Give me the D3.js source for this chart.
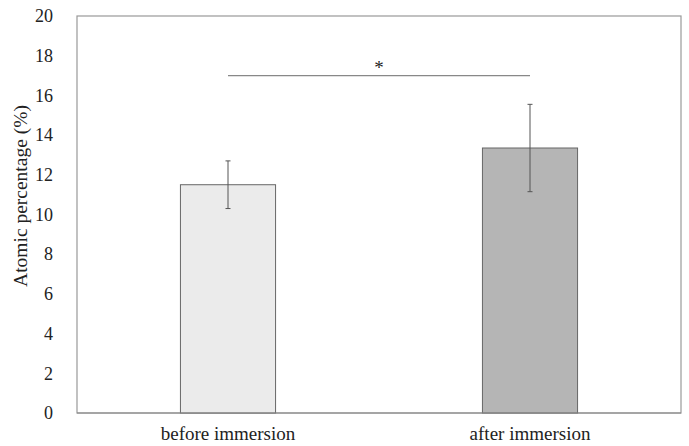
<!DOCTYPE html>
<html lang="en">
<head>
<meta charset="utf-8">
<title>Atomic percentage</title>
<script src="https://cdn.jsdelivr.net/npm/d3@7"></script>
<style>
  body { margin: 0; background: #fff; }
  text { font-family: "Liberation Serif", "Times New Roman", serif; fill: #222; }
</style>
</head>
<body>
<script>
// data
var categories = ["before immersion", "after immersion"];
var means = [11.5, 13.35];
var errors = [1.2, 2.2];
var fills = ["#ebebeb", "#b5b5b5"];
var yTicks = [0, 2, 4, 6, 8, 10, 12, 14, 16, 18, 20];
var sigLevel = 17;
var sigLabel = "*";

var width = 689, height = 446;
var margin = {top: 16, right: 8, bottom: 33, left: 77};

var svg = d3.select("body").append("svg")
    .attr("width", width)
    .attr("height", height);

var x = d3.scaleBand()
    .domain(categories)
    .range([margin.left, width - margin.right])
    .paddingInner(0.685)
    .paddingOuter(0.3425);

var y = d3.scaleLinear()
    .domain([0, 20])
    .range([height - margin.bottom, margin.top]);

// frame
svg.append("rect")
    .attr("x", margin.left)
    .attr("y", margin.top)
    .attr("width", width - margin.left - margin.right)
    .attr("height", height - margin.top - margin.bottom)
    .attr("fill", "none")
    .attr("stroke", "#999")
    .attr("stroke-width", 1.2);

// bars
svg.selectAll(".bar")
    .data(categories)
    .enter().append("rect")
    .attr("class", "bar")
    .attr("x", function(d) { return x(d); })
    .attr("y", function(d, i) { return y(means[i]); })
    .attr("width", x.bandwidth())
    .attr("height", function(d, i) { return y(0) - y(means[i]); })
    .attr("fill", function(d, i) { return fills[i]; })
    .attr("stroke", "#666")
    .attr("stroke-width", 1);

// bottom axis line over bars
svg.append("line")
    .attr("x1", margin.left).attr("x2", width - margin.right)
    .attr("y1", y(0)).attr("y2", y(0))
    .attr("stroke", "#888").attr("stroke-width", 1.2);

// error bars
var eb = svg.selectAll(".err")
    .data(categories)
    .enter().append("g")
    .attr("class", "err")
    .attr("stroke", "#555")
    .attr("stroke-width", 1);

eb.append("line")
    .attr("x1", function(d) { return x(d) + x.bandwidth() / 2; })
    .attr("x2", function(d) { return x(d) + x.bandwidth() / 2; })
    .attr("y1", function(d, i) { return y(means[i] + errors[i]); })
    .attr("y2", function(d, i) { return y(means[i] - errors[i]); });

[1, -1].forEach(function(s) {
  eb.append("line")
      .attr("x1", function(d) { return x(d) + x.bandwidth() / 2 - 2.5; })
      .attr("x2", function(d) { return x(d) + x.bandwidth() / 2 + 2.5; })
      .attr("y1", function(d, i) { return y(means[i] + s * errors[i]); })
      .attr("y2", function(d, i) { return y(means[i] + s * errors[i]); });
});

// y axis labels
var yAxis = d3.axisLeft(y)
    .tickValues(yTicks)
    .tickSize(0)
    .tickPadding(24);

svg.append("g")
    .attr("transform", "translate(" + margin.left + ",0)")
    .call(yAxis)
    .call(function(g) { g.select(".domain").remove(); })
    .selectAll("text")
    .style("font-family", "Liberation Serif, serif")
    .style("font-size", "18px")
    .attr("fill", "#222");

// x axis labels
var xAxis = d3.axisBottom(x).tickSize(0).tickPadding(14);
svg.append("g")
    .attr("transform", "translate(0," + y(0) + ")")
    .call(xAxis)
    .call(function(g) { g.select(".domain").remove(); })
    .selectAll("text")
    .style("font-family", "Liberation Serif, serif")
    .style("font-size", "19px")
    .attr("fill", "#222");

// y title
svg.append("text")
    .attr("transform", "translate(27," + 196 + ") rotate(-90)")
    .attr("text-anchor", "middle")
    .style("font-size", "19.5px")
    .text("Atomic percentage (%)");

// significance
var c0 = x(categories[0]) + x.bandwidth() / 2;
var c1 = x(categories[1]) + x.bandwidth() / 2;
svg.append("line")
    .attr("x1", c0).attr("x2", c1)
    .attr("y1", y(sigLevel)).attr("y2", y(sigLevel))
    .attr("stroke", "#888").attr("stroke-width", 1.2);

svg.append("text")
    .attr("x", (c0 + c1) / 2)
    .attr("y", y(sigLevel) - 2)
    .attr("text-anchor", "middle")
    .style("font-size", "19px")
    .text(sigLabel);
</script>
</body>
</html>
